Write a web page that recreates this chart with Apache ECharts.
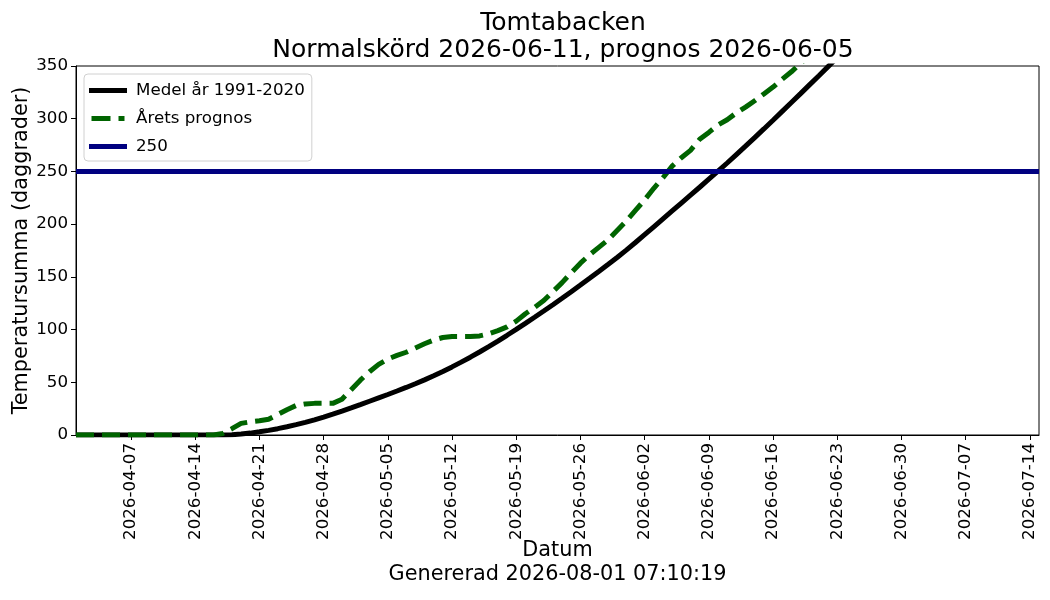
<!DOCTYPE html>
<html>
<head>
<meta charset="utf-8">
<script src="https://cdn.jsdelivr.net/npm/echarts@6/dist/echarts.min.js"></script>
<style>
  html, body { margin: 0; padding: 0; background: #fff; }
  #chart-container { width: 1050px; height: 600px; }
</style>
</head>
<body>
<div id="chart-container"></div>
<script>
// day 0 = 2026-04-01, one value per day
var startDate = '2026-04-01';
var endDate = '2026-07-15';

var medel = [
  0, 0, 0, 0, 0, 0, 0, 0, 0, 0, 0, 0, 0, 0, 0, 0,
  0, 0.3, 0.9, 1.8, 3.0, 4.4, 6.0, 7.8, 9.8, 12.0,
  14.4, 17.0, 19.8, 22.7, 25.7, 28.8, 32.0, 35.2, 38.4, 41.7,
  45.1, 48.6, 52.3, 56.2, 60.3, 64.6, 69.1, 73.8, 78.7, 83.8,
  89.1, 94.6, 100.2, 105.9, 111.7, 117.6, 123.6, 129.7, 135.9, 142.2,
  148.6, 155.1, 161.7, 168.4, 175.4, 182.6, 190.0, 197.5, 205.0, 212.5,
  220.0, 227.5, 235.0, 242.6, 250.2, 258.0, 266.0, 274.0, 282.1, 290.3,
  298.6, 307.0, 315.4, 323.8, 332.3, 340.8, 349.4, 358.0, 366.7
];

var prognos = [
  0, 0, 0, 0, 0, 0, 0, 0, 0, 0, 0, 0, 0, 0, 0, 0,
  1.5, 6, 11, 12.5, 13.5, 15, 19.5, 24, 28, 29.5,
  30, 30, 30, 34, 43, 52, 60, 67, 72, 75.5,
  78.5, 82.5, 86.5, 90, 92.5, 93.5, 93.5, 93.5, 94, 96,
  99, 102.5, 108, 115, 121, 127.5, 136, 144.5, 154, 163,
  171, 178, 185, 194, 203, 213, 223, 234, 244, 255,
  263, 270, 280.5, 287, 294, 299, 305.5, 311, 317, 323.5,
  330, 337.5, 344.5, 352.5, 360
];

var threshold = 250;
var tickDates = [
  '2026-04-07', '2026-04-14', '2026-04-21', '2026-04-28', '2026-05-05',
  '2026-05-12', '2026-05-19', '2026-05-26', '2026-06-02', '2026-06-09',
  '2026-06-16', '2026-06-23', '2026-06-30', '2026-07-07', '2026-07-14'
];
var yTicks = [0, 50, 100, 150, 200, 250, 300, 350];

var DAY = 86400000;
function ts(s) {
  var p = s.split('-');
  return Date.UTC(+p[0], +p[1] - 1, +p[2]);
}
function fmt(v) {
  var d = new Date(v);
  var m = d.getUTCMonth() + 1, dd = d.getUTCDate();
  return d.getUTCFullYear() + '-' + (m < 10 ? '0' : '') + m + '-' + (dd < 10 ? '0' : '') + dd;
}
function toPairs(arr) {
  var t0 = ts(startDate);
  return arr.map(function (v, i) { return [t0 + i * DAY, v]; });
}

var font = 'DejaVu Sans';
var solidIcon = 'path://M0,0H38V5H0Z';
var dashIcon = 'path://M2,0H21V5H2Z M29,0H35V5H29Z';

var dom = document.getElementById('chart-container');
var myChart = echarts.init(dom, null, { renderer: 'canvas' });

var option = {
  animation: false,
  textStyle: { fontFamily: font },
  title: {
    text: 'Tomtabacken\nNormalskörd 2026-06-11, prognos 2026-06-05',
    left: 558,
    top: 5,
    textAlign: 'center',
    textStyle: { fontFamily: font, fontSize: 25, fontWeight: 'normal', color: '#000', lineHeight: 27 }
  },
  legend: {
    orient: 'vertical',
    left: 84,
    top: 74,
    padding: [8, 7, 6, 5],
    itemWidth: 38,
    itemHeight: 5,
    itemGap: 11,
    backgroundColor: '#fff',
    borderColor: '#d0d0d0',
    borderWidth: 1,
    borderRadius: 4,
    textStyle: { fontFamily: font, fontSize: 16.7, color: '#000', padding: [0, 0, 0, 4] },
    data: [
      { name: 'Medel år 1991-2020', icon: solidIcon },
      { name: 'Årets prognos', icon: dashIcon },
      { name: '250', icon: solidIcon }
    ]
  },
  grid: {
    left: 76, right: 11, top: 66, bottom: 165,
    show: true, borderColor: '#000', borderWidth: 1
  },
  xAxis: {
    type: 'value',
    min: ts(startDate),
    max: ts(endDate),
    name: 'Datum\nGenererad 2026-08-01 07:10:19',
    nameLocation: 'middle',
    nameGap: 104,
    nameMoveOverlap: false,
    nameTextStyle: { fontFamily: font, fontSize: 20.8, color: '#000', lineHeight: 24, verticalAlign: 'top' },
    splitLine: { show: false },
    axisLine: { lineStyle: { color: '#000', width: 1 } },
    axisTick: {
      show: true, length: 5, inside: false,
      lineStyle: { color: '#000' },
      customValues: tickDates.map(ts)
    },
    axisLabel: {
      rotate: 90,
      margin: 8,
      fontFamily: font,
      fontSize: 16.7,
      color: '#000',
      customValues: tickDates.map(ts),
      formatter: function (v) { return fmt(v); }
    }
  },
  yAxis: {
    type: 'value',
    min: 0,
    max: 350,
    interval: 50,
    name: 'Temperatursumma (daggrader)',
    nameLocation: 'middle',
    nameGap: 44,
    nameMoveOverlap: false,
    nameTextStyle: { fontFamily: font, fontSize: 20.8, color: '#000' },
    splitLine: { show: false },
    axisLine: { show: true, lineStyle: { color: '#000', width: 1 } },
    axisTick: { show: true, length: 5, lineStyle: { color: '#000' }, customValues: yTicks },
    axisLabel: { fontFamily: font, fontSize: 16.7, color: '#000', margin: 8, customValues: yTicks }
  },
  series: [
    {
      name: 'Medel år 1991-2020',
      type: 'line',
      symbol: 'none',
      clip: true,
      z: 3,
      lineStyle: { color: '#000000', width: 5 },
      itemStyle: { color: '#000000' },
      data: toPairs(medel)
    },
    {
      name: 'Årets prognos',
      type: 'line',
      symbol: 'none',
      clip: true,
      z: 4,
      lineStyle: { color: '#006400', width: 5, type: [18, 8] },
      itemStyle: { color: '#006400' },
      data: toPairs(prognos)
    },
    {
      name: '250',
      type: 'line',
      symbol: 'none',
      clip: true,
      z: 5,
      lineStyle: { color: '#000080', width: 5 },
      itemStyle: { color: '#000080' },
      data: [[ts(startDate), threshold], [ts(endDate), threshold]]
    }
  ]
};

if (option && typeof option === 'object') {
  myChart.setOption(option);
}

window.addEventListener('resize', myChart.resize);
</script>
</body>
</html>
